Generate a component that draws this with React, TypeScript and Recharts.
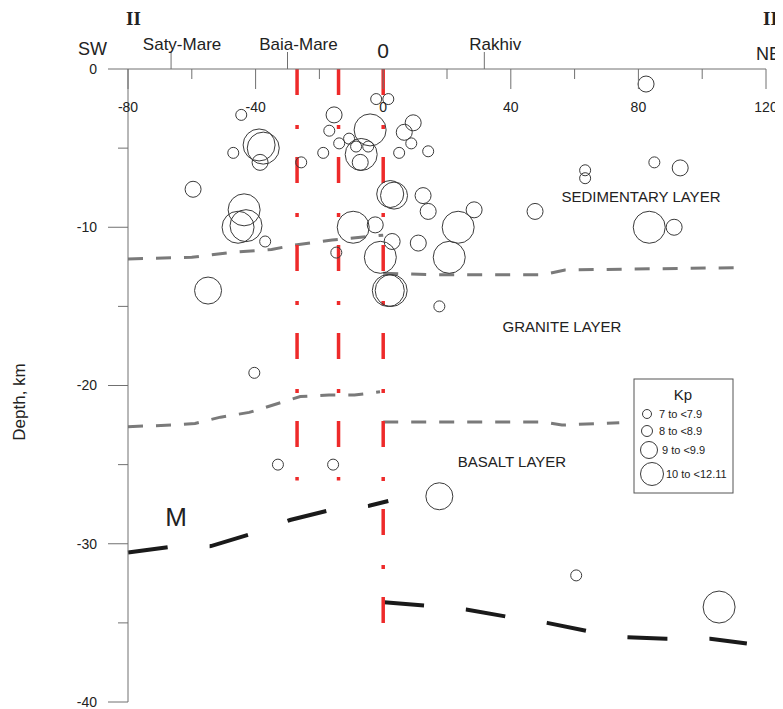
import React from "react";
import {
  ComposedChart,
  Line,
  Scatter,
  XAxis,
  YAxis,
} from "recharts";

// distance along profile (km) and depth (km)
const xTicks = [-80, -60, -40, -20, 0, 20, 40, 60, 80, 100, 120];
const yTicks = [-40, -35, -30, -25, -20, -15, -10, -5, 0];

const cityNames = ["Saty-Mare", "Baia-Mare", "Rakhiv"];
const cityPositions = [-66.5, -30, 31.7];

// earthquakes grouped by energy class Kp
const quakesKp7 = [
  { x: -2.2, y: -1.9 }, { x: 1.6, y: -1.9 }, { x: -44.5, y: -2.9 },
  { x: -47, y: -5.3 }, { x: -37, y: -10.9 }, { x: -25.7, y: -5.9 },
  { x: -16.9, y: -3.9 }, { x: -13.8, y: -4.7 }, { x: -10.7, y: -4.4 },
  { x: -18.8, y: -5.3 }, { x: -8.5, y: -4.9 }, { x: -4.7, y: -4.9 },
  { x: 8.8, y: -4.7 }, { x: 5, y: -5.3 }, { x: 14.1, y: -5.2 },
  { x: 63.3, y: -6.4 }, { x: 63.3, y: -6.9 }, { x: 85, y: -5.9 },
  { x: 17.6, y: -15 }, { x: -14.7, y: -11.6 }, { x: -40.4, y: -19.2 },
  { x: -33, y: -25 }, { x: -15.7, y: -25 }, { x: 60.5, y: -32 },
];
const quakesKp8 = [
  { x: 82.4, y: -0.95 }, { x: -38.6, y: -5.9 }, { x: -59.6, y: -7.6 },
  { x: -15.4, y: -2.9 }, { x: -7.2, y: -5.9 }, { x: 9.4, y: -3.4 },
  { x: 6.6, y: -4 }, { x: 93.1, y: -6.25 }, { x: 12.5, y: -8 },
  { x: 14.1, y: -9 }, { x: 28.5, y: -8.9 }, { x: 47.6, y: -9 },
  { x: 91.2, y: -10 }, { x: 2.8, y: -10.9 }, { x: 11, y: -11 },
  { x: -2.5, y: -9.85 },
];
const quakesKp9 = [
  { x: -54.9, y: -14 }, { x: 3.4, y: -8 }, { x: 2.2, y: -7.9 },
  { x: 17.6, y: -27 },
];
const quakesKp10 = [
  { x: -38.9, y: -4.8 }, { x: -37.6, y: -5.0 }, { x: -43.6, y: -8.9 },
  { x: -43, y: -9.9 }, { x: -45.5, y: -10 }, { x: -4.1, y: -3.85 },
  { x: -6.9, y: -5.4 }, { x: -0.9, y: -11.9 }, { x: 20.7, y: -11.9 },
  { x: 1.6, y: -14 }, { x: 2.5, y: -14 }, { x: 83.4, y: -10 },
  { x: 105.3, y: -34 }, { x: -9.4, y: -10 }, { x: 23.5, y: -10 },
];

// layer boundaries
const sedimentWest = [
  { x: -80, y: -12.0 }, { x: -60, y: -11.9 }, { x: -48, y: -11.6 },
  { x: -35, y: -11.4 }, { x: -27, y: -11.1 }, { x: -16, y: -10.8 },
  { x: 0, y: -10.5 },
];
const sedimentEast = [
  { x: 0, y: -12.9 }, { x: 15, y: -13.0 }, { x: 50, y: -13.0 },
  { x: 57, y: -12.7 }, { x: 112, y: -12.55 },
];
const graniteWest = [
  { x: -80, y: -22.6 }, { x: -66, y: -22.5 }, { x: -59, y: -22.4 },
  { x: -51, y: -22.0 }, { x: -42, y: -21.7 }, { x: -34, y: -21.2 },
  { x: -26, y: -20.7 }, { x: -17, y: -20.6 }, { x: -9, y: -20.6 },
  { x: -1, y: -20.4 },
];
const graniteEast = [
  { x: 0, y: -22.3 }, { x: 50, y: -22.3 }, { x: 56, y: -22.5 },
  { x: 74, y: -22.35 },
];
const mohoWest = [
  { x: -80, y: -30.55 }, { x: -67, y: -30.2 }, { x: -54, y: -30.15 },
  { x: -41.7, y: -29.4 }, { x: -29.2, y: -28.5 }, { x: -17.2, y: -27.9 },
  { x: -4.4, y: -27.6 }, { x: 1.6, y: -27.3 },
];
const mohoEast = [
  { x: 0.3, y: -33.7 }, { x: 12.9, y: -33.9 }, { x: 26, y: -34.15 },
  { x: 38.6, y: -34.6 }, { x: 51.4, y: -35.0 }, { x: 63.6, y: -35.5 },
  { x: 76.5, y: -35.9 }, { x: 88.7, y: -36.0 }, { x: 102.5, y: -36.0 },
  { x: 114, y: -36.3 },
];

// deep faults
const faultA = [{ x: -27, y: 0 }, { x: -27, y: -26 }];
const faultB = [{ x: -14, y: 0 }, { x: -14, y: -26 }];
const faultC = [{ x: 0, y: 0 }, { x: 0, y: -35 }];

const font = "'Liberation Sans', Arial, sans-serif";
const axisColor = "#707070";
const ringColor = "#3a3a3a";

const allXTicks = [...xTicks, ...cityPositions].sort((a, b) => a - b);

const ring = (r: number) => (props: any) =>
  <circle cx={props.cx} cy={props.cy} r={r} fill="none" stroke={ringColor} strokeWidth={1} />;

const XTick = (props: any) => {
  const { x, y, payload } = props;
  const city = cityPositions.indexOf(payload.value);
  if (city >= 0) {
    return (
      <g>
        <line x1={x} x2={x} y1={y} y2={y - 17} stroke={axisColor} />
        <text x={x + 11} y={y - 19} textAnchor="middle" fontSize={17} fontFamily={font} fill="#222">
          {cityNames[city]}
        </text>
      </g>
    );
  }
  const major = payload.value % 40 === 0;
  return (
    <g>
      <line x1={x} x2={x} y1={y} y2={y + (major ? 20 : 10)} stroke={axisColor} />
      {major && (
        <text x={x} y={y + 38} dy="0.35em" textAnchor="middle" fontSize={14} fontFamily={font} fill="#222">
          {payload.value}
        </text>
      )}
    </g>
  );
};

const YTick = (props: any) => {
  const { x, y, payload } = props;
  const major = payload.value % 10 === 0;
  return (
    <g>
      <line x1={x} x2={x - (major ? 20 : 10)} y1={y} y2={y} stroke={axisColor} />
      {major && (
        <text x={x - 31} y={y} dy="0.35em" textAnchor="end" fontSize={14} fontFamily={font} fill="#222">
          {payload.value}
        </text>
      )}
    </g>
  );
};

const boundary = { stroke: "#7a7a7a", strokeWidth: 3, strokeDasharray: "15 13" };
const moho = { stroke: "#1a1a1a", strokeWidth: 4, strokeDasharray: "40 42" };
const fault = { stroke: "#ee2a2a", strokeWidth: 3.5, strokeDasharray: "26 30 4 28" };

const legendItems = ["7 to <7.9", "8 to <8.9", "9 to <9.9", "10 to <12.11"];

export default function App() {
  return (
    <div style={{ position: "relative", width: 775, height: 701 }}>
      <ComposedChart
        width={775}
        height={701}
        margin={{ top: 41, right: 17, bottom: 7, left: 100 }}
      >
        <XAxis
          type="number"
          dataKey="x"
          orientation="top"
          domain={[-80, 120]}
          ticks={allXTicks}
          interval={0}
          height={20}
          tickSize={0}
          tickMargin={0}
          tick={<XTick />}
          axisLine={{ stroke: axisColor }}
        />
        <YAxis
          type="number"
          dataKey="y"
          domain={[-40, 0]}
          ticks={yTicks}
          interval={0}
          width={20}
          tickSize={0}
          tickMargin={0}
          tick={<YTick />}
          axisLine={{ stroke: axisColor }}
        />

        <Line data={sedimentWest} dataKey="y" type="linear" dot={false} isAnimationActive={false} {...boundary} />
        <Line data={sedimentEast} dataKey="y" type="linear" dot={false} isAnimationActive={false} {...boundary} />
        <Line data={graniteWest} dataKey="y" type="linear" dot={false} isAnimationActive={false} {...boundary} />
        <Line data={graniteEast} dataKey="y" type="linear" dot={false} isAnimationActive={false} {...boundary} />
        <Line data={mohoWest} dataKey="y" type="linear" dot={false} isAnimationActive={false} {...moho} />
        <Line data={mohoEast} dataKey="y" type="linear" dot={false} isAnimationActive={false} {...moho} />
        <Line data={faultA} dataKey="y" type="linear" dot={false} isAnimationActive={false} {...fault} />
        <Line data={faultB} dataKey="y" type="linear" dot={false} isAnimationActive={false} {...fault} />
        <Line data={faultC} dataKey="y" type="linear" dot={false} isAnimationActive={false} {...fault} />

        <Scatter data={quakesKp7} shape={ring(5.5)} isAnimationActive={false} />
        <Scatter data={quakesKp8} shape={ring(8)} isAnimationActive={false} />
        <Scatter data={quakesKp9} shape={ring(13.5)} isAnimationActive={false} />
        <Scatter data={quakesKp10} shape={ring(16)} isAnimationActive={false} />
      </ComposedChart>

      <svg
        width={775}
        height={701}
        style={{ position: "absolute", left: 0, top: 0, pointerEvents: "none" }}
        fontFamily={font}
        fill="#222"
      >
        <text x={118} y={17} fontSize={19} fontWeight="bold" fontFamily="'Liberation Serif', serif">II</text>
        <text x={755} y={17} fontSize={19} fontWeight="bold" fontFamily="'Liberation Serif', serif">II</text>
        <text x={99} y={47} fontSize={18} textAnchor="end">SW</text>
        <text x={748} y={52} fontSize={18}>NE</text>
        <text x={375} y={50} fontSize={21} textAnchor="middle">0</text>

        <text x={633} y={194} fontSize={15} textAnchor="middle">SEDIMENTARY LAYER</text>
        <text x={554} y={324} fontSize={15} textAnchor="middle">GRANITE LAYER</text>
        <text x={504} y={459} fontSize={15} textAnchor="middle">BASALT LAYER</text>
        <text x={168} y={518} fontSize={26} textAnchor="middle">M</text>

        <text
          x={11}
          y={394}
          fontSize={17}
          textAnchor="middle"
          dominantBaseline="central"
          transform="rotate(-90 11 394)"
        >
          Depth, km
        </text>

        <rect x={626} y={371} width={99} height={114} fill="#fff" stroke="#555" />
        <text x={675} y={392} fontSize={15} textAnchor="middle">Kp</text>
        {legendItems.map((label, i) => {
          const rows = [406, 423, 442, 466];
          const cxs = [639, 639, 641, 644];
          const rs = [4.5, 5.5, 8.5, 11.5];
          const tx = [651, 651, 654, 658];
          return (
            <g key={label}>
              <circle cx={cxs[i]} cy={rows[i]} r={rs[i]} fill="none" stroke={ringColor} />
              <text x={tx[i]} y={rows[i]} fontSize={11} dominantBaseline="central">{label}</text>
            </g>
          );
        })}
      </svg>
    </div>
  );
}
